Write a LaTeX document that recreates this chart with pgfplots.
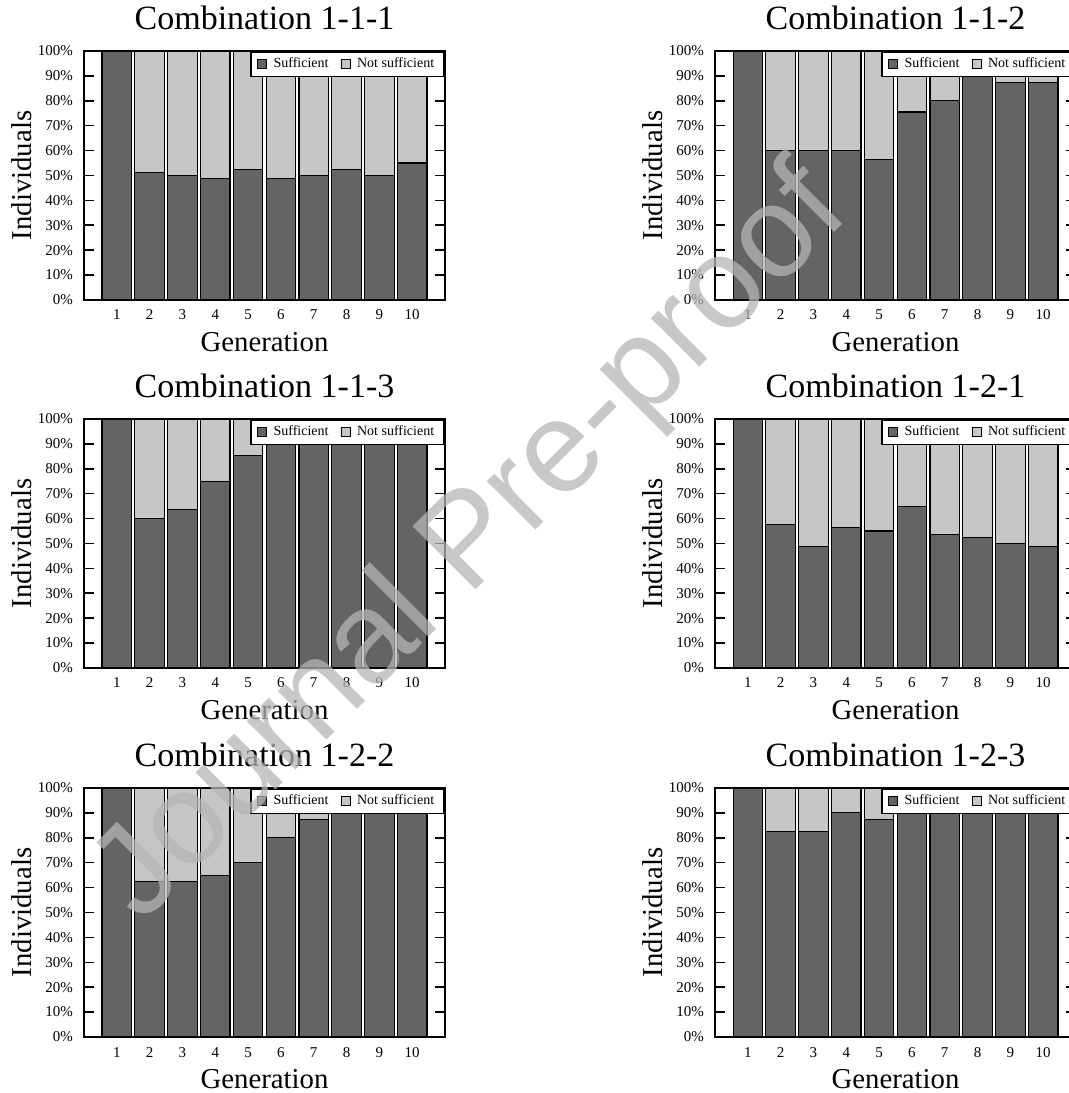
\documentclass[border=0pt]{standalone}
\usepackage{pgfplots}
\pgfplotsset{compat=1.18}
\usepackage{fontspec}
\setmainfont{Liberation Serif}
\newfontfamily\wmfont{Liberation Sans}
\definecolor{suff}{RGB}{100,100,100}
\definecolor{nsuff}{RGB}{198,198,198}
\definecolor{wm}{RGB}{181,181,181}
\pgfplotsset{
 comb/.style={
  scale only axis, width=180.5pt, height=124.5pt,
  anchor=south west,
  ybar stacked, bar width=0.9,
  xmin=0, xmax=11, ymin=0, ymax=100,
  xtick={1,...,10},
  ytick={0,10,...,100}, yticklabel={\pgfmathprintnumber{\tick}\%},
  /pgf/number format/assume math mode=true,
  tick label style={font=\fontsize{7.5}{9}\selectfont},
  xtick style={draw=none},
  ytick style={black, line width=0.8pt}, major tick length=5pt,
  tick align=inside,
  axis line style={line width=0.9pt},
  xlabel={Generation}, ylabel={Individuals},
  every axis title/.style={font=\fontsize{17}{19}\selectfont, at={(axis description cs:0.5,1)}, anchor=base, yshift=10.5pt},
  every axis x label/.style={font=\fontsize{14.4}{16}\selectfont, at={(axis description cs:0.5,0)}, anchor=center, yshift=-21pt},
  every axis y label/.style={font=\fontsize{14.4}{16}\selectfont, at={(axis description cs:0,0.5)}, xshift=-31pt, anchor=center, rotate=90},
  xticklabel style={anchor=base, yshift=-10pt},
  yticklabel style={xshift=-2pt},
  legend style={at={(1,1)}, anchor=north east, legend columns=2, draw=black, line width=0.8pt, fill=white,
    font=\fontsize{7}{8}\selectfont, inner xsep=3pt, inner ysep=1pt,
    /tikz/every even column/.append style={column sep=4pt}},
  legend image code/.code={\draw[#1, draw=black, line width=0.5pt] (0pt,-2.25pt) rectangle (4.5pt,2.25pt); \path[draw=none, fill=none] (0pt,0pt) -- (6pt,0pt);},
  every axis plot/.append style={draw=black, line width=0.55pt},
 }
}
\begin{document}
\begin{tikzpicture}
% Combination 1-1-1
\begin{axis}[comb, at={(42pt,396.5pt)}, title={Combination 1-1-1}]
\addplot[fill=suff] coordinates {(1,100) (2,51.25) (3,50) (4,48.75) (5,52.5) (6,48.75) (7,50) (8,52.5) (9,50) (10,55)};
\addlegendentry{Sufficient}
\addplot[fill=nsuff] coordinates {(1,0) (2,48.75) (3,50) (4,51.25) (5,47.5) (6,51.25) (7,50) (8,47.5) (9,50) (10,45)};
\addlegendentry{Not sufficient}
\end{axis}
% Combination 1-1-2
\begin{axis}[comb, at={(357.5pt,396.5pt)}, title={Combination 1-1-2}]
\addplot[fill=suff] coordinates {(1,100) (2,60) (3,60) (4,60) (5,56.25) (6,75.5) (7,80) (8,92.5) (9,87.5) (10,87.5)};
\addlegendentry{Sufficient}
\addplot[fill=nsuff] coordinates {(1,0) (2,40) (3,40) (4,40) (5,43.75) (6,24.5) (7,20) (8,7.5) (9,12.5) (10,12.5)};
\addlegendentry{Not sufficient}
\end{axis}
% Combination 1-1-3
\begin{axis}[comb, at={(42pt,212.5pt)}, title={Combination 1-1-3}]
\addplot[fill=suff] coordinates {(1,100) (2,60) (3,63.75) (4,75) (5,85.5) (6,95) (7,95) (8,95) (9,95) (10,95)};
\addlegendentry{Sufficient}
\addplot[fill=nsuff] coordinates {(1,0) (2,40) (3,36.25) (4,25) (5,14.5) (6,5) (7,5) (8,5) (9,5) (10,5)};
\addlegendentry{Not sufficient}
\end{axis}
% Combination 1-2-1
\begin{axis}[comb, at={(357.5pt,212.5pt)}, title={Combination 1-2-1}]
\addplot[fill=suff] coordinates {(1,100) (2,57.5) (3,48.75) (4,56.25) (5,55) (6,65) (7,53.75) (8,52.5) (9,50) (10,48.75)};
\addlegendentry{Sufficient}
\addplot[fill=nsuff] coordinates {(1,0) (2,42.5) (3,51.25) (4,43.75) (5,45) (6,35) (7,46.25) (8,47.5) (9,50) (10,51.25)};
\addlegendentry{Not sufficient}
\end{axis}
% Combination 1-2-2
\begin{axis}[comb, at={(42pt,28pt)}, title={Combination 1-2-2}]
\addplot[fill=suff] coordinates {(1,100) (2,62.5) (3,62.5) (4,65) (5,70) (6,80) (7,87.5) (8,95) (9,95) (10,95)};
\addlegendentry{Sufficient}
\addplot[fill=nsuff] coordinates {(1,0) (2,37.5) (3,37.5) (4,35) (5,30) (6,20) (7,12.5) (8,5) (9,5) (10,5)};
\addlegendentry{Not sufficient}
\end{axis}
% Combination 1-2-3
\begin{axis}[comb, at={(357.5pt,28pt)}, title={Combination 1-2-3}]
\addplot[fill=suff] coordinates {(1,100) (2,82.5) (3,82.5) (4,90) (5,87.5) (6,95) (7,95) (8,95) (9,95) (10,95)};
\addlegendentry{Sufficient}
\addplot[fill=nsuff] coordinates {(1,0) (2,17.5) (3,17.5) (4,10) (5,12.5) (6,5) (7,5) (8,5) (9,5) (10,5)};
\addlegendentry{Not sufficient}
\end{axis}
\node[font=\wmfont\fontsize{65}{65}\selectfont, text=wm, text opacity=0.74, rotate=45] at (236.5pt,273.5pt) {Journal Pre-proof};
\pgfresetboundingbox
\useasboundingbox (0,0) rectangle (534.5pt,546.5pt);
\end{tikzpicture}
\end{document}
